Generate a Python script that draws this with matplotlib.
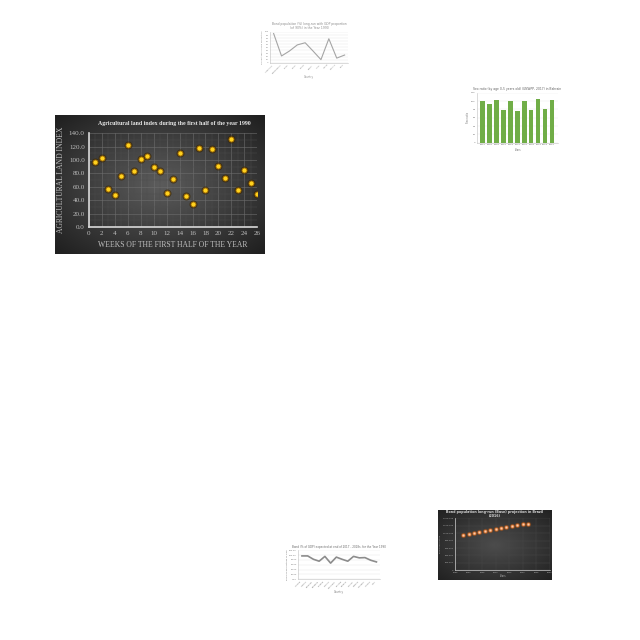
import matplotlib
matplotlib.use("Agg")
import matplotlib.pyplot as plt
import numpy as np

# main chart: agricultural land index per week
weeks = list(range(1, 27))
land_index = [97.5, 103.5, 56.5, 47.5, 76.5, 122, 83.5, 101, 106.5, 89.5, 84, 50.5, 71.5,
              110, 46, 34.5, 118, 56, 117, 91.5, 72.5, 131, 56, 84.5, 65.5, 49.5]

# small line chart (top)
top_countries = ["Argentina", "Bangladesh", "Brazil", "Chile", "China", "Egypt",
                 "India", "Japan", "Mexico", "Peru"]
top_values = [95, 22, 38, 58, 65, 38, 10, 78, 15, 25]

# small bar chart (top right)
bar_years = ["1990", "1992", "1994", "1996", "1998", "2000", "2002", "2004", "2006", "2008", "2010"]
bar_values = [101, 94, 102, 79, 101, 77, 101, 79, 105, 81, 103]

# small dark scatter (bottom right)
proj_years = [1998, 2000, 2002, 2004, 2006, 2008, 2010, 2012, 2014, 2016, 2018, 2020, 2022]
proj_values = [950000, 975000, 1000000, 1025000, 1060000, 1085000, 1110000, 1145000,
               1170000, 1190000, 1210000, 1240000, 1260000]

# small line chart (bottom centre)
bottom_countries = ["Albania", "Austria", "Belgium", "Bulgaria", "Croatia", "Cyprus",
                    "Denmark", "Estonia", "Finland", "France", "Greece", "Hungary",
                    "Ireland", "Italy"]
bottom_values = [97, 97, 83, 75, 95, 67, 92, 83, 75, 95, 89, 90, 79, 72]

fig = plt.figure(figsize=(6.4, 6.4), dpi=100)
fig.patch.set_facecolor("white")


def dark_panel(rect, centre=0.36, edge=0.12):
    bg = fig.add_axes(rect, zorder=0)
    yy, xx = np.mgrid[-1:1:200j, -1:1:200j]
    r = np.clip(np.sqrt(xx ** 2 + yy ** 2) / np.sqrt(2), 0, 1)
    shade = centre - (centre - edge) * r
    bg.imshow(np.dstack([shade] * 3), aspect="auto", extent=(0, 1, 0, 1),
              interpolation="bilinear")
    bg.set_axis_off()
    return bg


# ---------- main chart ----------
dark_panel([0.086, 0.603, 0.328, 0.217])
ax = fig.add_axes([0.139, 0.645, 0.263, 0.147], zorder=1)
ax.patch.set_alpha(0)
serif = "Liberation Serif"
ax.scatter(weeks, land_index, s=34, color="#3a2500", alpha=0.6, linewidths=0, zorder=3)
ax.scatter(weeks, land_index, s=13, color="#ffd21f", edgecolors="#a87000",
           linewidths=0.6, zorder=4)
ax.set_xlim(0, 26)
ax.set_ylim(0, 140)
ax.set_xticks(range(0, 27, 2))
ax.set_yticks(range(0, 141, 20))
ax.set_yticklabels([f"{v:.1f}" for v in range(0, 141, 20)])
ax.set_xticks(range(0, 27), minor=True)
ax.set_yticks(range(0, 141, 10), minor=True)
ax.grid(which="major", color="#6e6e6e", linewidth=0.4)
ax.grid(which="minor", color="#4e4e4e", linewidth=0.3)
ax.set_axisbelow(True)
for s in ["top", "right"]:
    ax.spines[s].set_visible(False)
for s in ["left", "bottom"]:
    ax.spines[s].set_color("#d9d9d9")
    ax.spines[s].set_linewidth(1.2)
ax.tick_params(which="both", length=0, colors="#bfbfbf", labelsize=5, pad=3)
for lab in ax.get_xticklabels() + ax.get_yticklabels():
    lab.set_family(serif)
ax.set_xlabel("WEEKS OF THE FIRST HALF OF THE YEAR", family=serif, fontsize=5.5,
              color="#bfbfbf", labelpad=3)
ax.set_ylabel("AGRICULTURAL LAND INDEX", family=serif, fontsize=5.5,
              color="#bfbfbf", labelpad=3)
fig.text(0.272, 0.807, "Agricultural land index during the first half of the year 1990",
         ha="center", va="center", family=serif, fontsize=4.2, weight="bold", color="#e8e8e8")

# ---------- top line chart ----------
ax2 = fig.add_axes([0.422, 0.902, 0.122, 0.048])
ax2.plot(range(len(top_values)), top_values, color="#a5a5a5", linewidth=0.8)
ax2.set_ylim(0, 100)
ax2.set_yticks(range(0, 101, 10))
ax2.set_xticks(range(len(top_countries)))
ax2.set_xticklabels(top_countries, rotation=45, ha="right")
ax2.tick_params(length=0, labelsize=1.6, colors="#8a8a8a", pad=1)
ax2.grid(axis="y", color="#e4e4e4", linewidth=0.3)
for s in ["top", "right"]:
    ax2.spines[s].set_visible(False)
for s in ["left", "bottom"]:
    ax2.spines[s].set_color("#bfbfbf")
    ax2.spines[s].set_linewidth(0.4)
ax2.set_title("Bond population (%) long-run with GDP proportion\n(of 90%) in the Year 1990",
              fontsize=2.2, color="#8a8a8a", pad=2)
ax2.set_ylabel("Percentage of GDP proportion", fontsize=1.6, color="#8a8a8a", labelpad=1)
ax2.set_xlabel("Country", fontsize=1.8, color="#8a8a8a", labelpad=1)

# ---------- top right bar chart ----------
ax3 = fig.add_axes([0.745, 0.777, 0.127, 0.078])
ax3.bar(bar_years, bar_values, color="#70ad47", width=0.6)
ax3.set_ylim(0, 120)
ax3.set_yticks(range(0, 121, 20))
ax3.tick_params(length=0, labelsize=1.7, colors="#707070", pad=1)
ax3.grid(axis="y", color="#e8e8e8", linewidth=0.3)
ax3.set_axisbelow(True)
for s in ["top", "right"]:
    ax3.spines[s].set_visible(False)
for s in ["left", "bottom"]:
    ax3.spines[s].set_color("#bfbfbf")
    ax3.spines[s].set_linewidth(0.4)
ax3.set_title("Sex ratio (by age 0-5 years old) (UNWPP, 2017) in Bahrain",
              fontsize=2.2, color="#606060", pad=2)
ax3.set_ylabel("Sex ratio", fontsize=1.8, color="#707070", labelpad=1)
ax3.set_xlabel("Years", fontsize=1.8, color="#707070", labelpad=2)

# ---------- bottom right dark scatter ----------
dark_panel([0.684, 0.094, 0.178, 0.109], centre=0.30, edge=0.13)
ax4 = fig.add_axes([0.711, 0.109, 0.148, 0.081], zorder=1)
ax4.patch.set_alpha(0)
ax4.scatter(proj_years, proj_values, s=14, color="#c55a11", alpha=0.45, linewidths=0)
ax4.scatter(proj_years, proj_values, s=4, color="#f8cbad", edgecolors="#ed7d31",
            linewidths=0.4)
ax4.set_xlim(1995, 2030)
ax4.set_ylim(0, 1400000)
ax4.set_yticks(range(0, 1400001, 200000))
ax4.set_yticklabels([f"{v:,}" for v in range(0, 1400001, 200000)])
ax4.set_xticks(range(1995, 2031, 5))
ax4.grid(color="#4a4a4a", linewidth=0.3)
ax4.set_axisbelow(True)
ax4.tick_params(length=0, labelsize=1.6, colors="#b0b0b0", pad=1)
for s in ["top", "right"]:
    ax4.spines[s].set_visible(False)
for s in ["left", "bottom"]:
    ax4.spines[s].set_color("#d0d0d0")
    ax4.spines[s].set_linewidth(0.5)
ax4.set_xlabel("Years", fontsize=1.8, color="#b0b0b0", labelpad=1)
ax4.set_ylabel("Bond population", fontsize=1.6, color="#b0b0b0", labelpad=1)
fig.text(0.773, 0.197, "Bond population long-run (Base) projection in Brazil\n(2016)",
         ha="center", va="center", fontsize=2.3, weight="bold", color="#d9d9d9",
         linespacing=1.1)

# ---------- bottom centre line chart ----------
ax5 = fig.add_axes([0.466, 0.095, 0.128, 0.045])
ax5.plot(range(len(bottom_values)), bottom_values, color="#8c8c8c", linewidth=1.2)
ax5.set_ylim(0, 120)
ax5.set_yticks(range(0, 121, 20))
ax5.set_yticklabels([f"{v:.2f}" for v in range(0, 121, 20)])
ax5.set_xticks(range(len(bottom_countries)))
ax5.set_xticklabels(bottom_countries, rotation=45, ha="right")
ax5.tick_params(length=0, labelsize=1.6, colors="#7a7a7a", pad=1)
ax5.grid(axis="y", color="#e4e4e4", linewidth=0.3)
for s in ["top", "right"]:
    ax5.spines[s].set_visible(False)
for s in ["left", "bottom"]:
    ax5.spines[s].set_color("#bfbfbf")
    ax5.spines[s].set_linewidth(0.4)
ax5.set_title("Bond (% of GDP) expected at end of 2017 - 2018s, for the Year 1990",
              fontsize=2.0, color="#6a6a6a", pad=2)
ax5.set_ylabel("Bond as percentage of GDP", fontsize=1.6, color="#7a7a7a", labelpad=1)
ax5.set_xlabel("Country", fontsize=1.8, color="#7a7a7a", labelpad=1)

fig.savefig("out.png", dpi=100, facecolor="white")
